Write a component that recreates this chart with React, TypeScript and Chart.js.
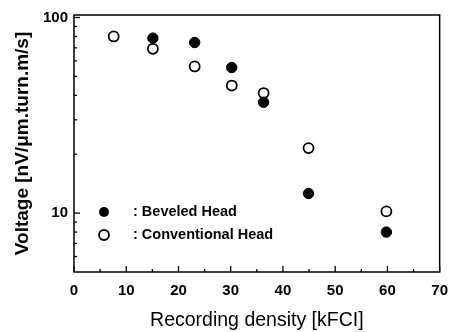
import React, { useEffect, useRef } from "react";
import { Chart, registerables } from "chart.js";

Chart.register(...registerables);

const densityBeveled = [15.1, 23.1, 30.2, 36.3, 44.9, 59.8];
const voltageBeveled = [78.5, 74.5, 55.5, 36.9, 12.6, 8.0];
const densityConventional = [7.6, 15.1, 23.1, 30.2, 36.3, 44.9, 59.8];
const voltageConventional = [80, 69.2, 56.2, 44.9, 41.1, 21.5, 10.2];
const xTicks = [0, 10, 20, 30, 40, 50, 60, 70];
const yLabelled = [10, 100];
const legendLabels = [": Beveled Head", ": Conventional Head"];

const FONT = "'Liberation Sans', Arial, sans-serif";

const framePlugin = {
  id: "frame",
  afterDraw(chart: any) {
    const { ctx, chartArea: a, scales } = chart;
    const xs = scales.x;
    const ys = scales.y;
    ctx.save();
    ctx.strokeStyle = "#000";
    ctx.lineWidth = 1.5;
    ctx.strokeRect(a.left, a.top, a.right - a.left, a.bottom - a.top);
    ctx.lineWidth = 1.3;
    for (let v = 0; v <= 70; v += 5) {
      const px = xs.getPixelForValue(v);
      const len = v % 10 === 0 ? 6 : 3;
      ctx.beginPath();
      ctx.moveTo(px, a.bottom);
      ctx.lineTo(px, a.bottom - len);
      ctx.stroke();
    }
    const yv = [6, 7, 8, 9, 10, 20, 30, 40, 50, 60, 70, 80, 90, 100];
    for (const v of yv) {
      const py = ys.getPixelForValue(v);
      const len = v === 10 || v === 100 ? 6 : 3;
      ctx.beginPath();
      ctx.moveTo(a.left, py);
      ctx.lineTo(a.left + len, py);
      ctx.stroke();
    }
    const mx = a.left + 30;
    const tx = a.left + 59;
    const rows = [a.top + 197, a.top + 220];
    ctx.font = `bold 14.5px ${FONT}`;
    ctx.textBaseline = "middle";
    ctx.fillStyle = "#000";
    rows.forEach((ry, i) => {
      ctx.beginPath();
      ctx.arc(mx, ry, 5, 0, Math.PI * 2);
      if (i === 0) {
        ctx.fill();
      } else {
        ctx.fillStyle = "#fff";
        ctx.fill();
        ctx.lineWidth = 1.8;
        ctx.stroke();
        ctx.fillStyle = "#000";
      }
      ctx.fillText(legendLabels[i], tx, ry);
    });
    ctx.restore();
  },
};

export default function App() {
  const ref = useRef<HTMLCanvasElement>(null);
  useEffect(() => {
    if (!ref.current) return;
    const chart = new Chart(ref.current, {
      type: "scatter",
      data: {
        datasets: [
          {
            label: "Beveled Head",
            data: densityBeveled.map((x, i) => ({ x, y: voltageBeveled[i] })),
            pointRadius: 5.2,
            pointBackgroundColor: "#000",
            pointBorderColor: "#000",
            pointBorderWidth: 1,
          },
          {
            label: "Conventional Head",
            data: densityConventional.map((x, i) => ({ x, y: voltageConventional[i] })),
            pointRadius: 5,
            pointBackgroundColor: "rgba(255,255,255,0)",
            pointBorderColor: "#000",
            pointBorderWidth: 1.8,
          },
        ],
      },
      options: {
        animation: false,
        responsive: false,
        maintainAspectRatio: false,
        layout: { padding: { top: 15, right: 6, left: 0, bottom: 0 } },
        plugins: { legend: { display: false }, tooltip: { enabled: false } },
        scales: {
          x: {
            type: "linear",
            min: 0,
            max: 70,
            afterBuildTicks: (s: any) => {
              s.ticks = xTicks.map((v) => ({ value: v }));
            },
            afterFit: (s: any) => {
              s.height = 60;
            },
            grid: { display: false, drawTicks: false },
            border: { display: false },
            ticks: {
              color: "#000",
              padding: 10,
              font: { family: FONT, size: 15, weight: "bold" },
              maxRotation: 0,
              autoSkip: false,
            },
            title: {
              display: true,
              text: "Recording density [kFCI]",
              color: "#000",
              font: { family: FONT, size: 19.5 },
              padding: { top: 0, bottom: 0 },
            },
          },
          y: {
            type: "logarithmic",
            min: 5,
            max: 103,
            afterBuildTicks: (s: any) => {
              s.ticks = yLabelled.map((v) => ({ value: v }));
            },
            afterFit: (s: any) => {
              s.width = 74;
            },
            grid: { display: false, drawTicks: false },
            border: { display: false },
            ticks: {
              color: "#000",
              padding: 6,
              font: { family: FONT, size: 15, weight: "bold" },
              autoSkip: false,
              callback: (v: any) => String(v),
            },
            title: {
              display: true,
              text: "Voltage [nV/μm.turn.m/s]",
              color: "#000",
              font: { family: FONT, size: 19, weight: "bold" },
              padding: { top: 11, bottom: 0 },
            },
          },
        },
      },
      plugins: [framePlugin],
    } as any);
    return () => chart.destroy();
  }, []);
  return (
    <div style={{ position: "fixed", left: 0, top: 0, width: 458, height: 332, background: "#fff" }}>
      <canvas ref={ref} width={458} height={332} style={{ width: 458, height: 332 }} />
    </div>
  );
}
